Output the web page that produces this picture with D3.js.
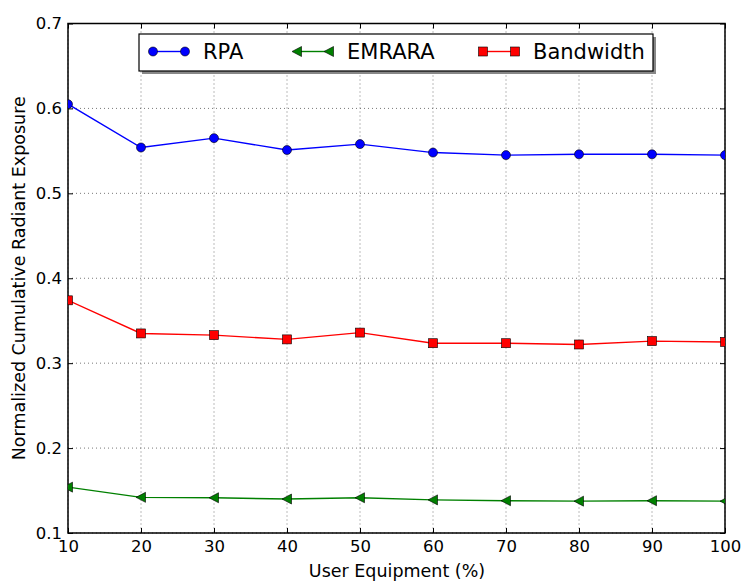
<!DOCTYPE html>
<html>
<head>
<meta charset="utf-8">
<script src="https://cdn.jsdelivr.net/npm/d3@7"></script>
<style>
  html, body { margin: 0; padding: 0; background: #fff; }
  svg { display: block; font-family: "DejaVu Sans", sans-serif; }
</style>
</head>
<body>
<svg id="chart" width="745" height="581"></svg>
<script>
// User equipment share (%)
const userEquipment = [10, 20, 30, 40, 50, 60, 70, 80, 90, 100];
// Normalized cumulative radiant exposure per scheme
const rpa       = [0.605, 0.554, 0.565, 0.551, 0.558, 0.548, 0.545, 0.546, 0.546, 0.545];
const emrara    = [0.154, 0.142, 0.1415, 0.140, 0.1415, 0.139, 0.138, 0.1375, 0.138, 0.1375];
const bandwidth = [0.374, 0.335, 0.333, 0.328, 0.336, 0.3235, 0.3235, 0.322, 0.326, 0.325];
const xTicks = [10, 20, 30, 40, 50, 60, 70, 80, 90, 100];
const yTicks = [0.1, 0.2, 0.3, 0.4, 0.5, 0.6, 0.7];

const series = [
  { name: "RPA",       values: rpa,       color: "#0000ff", marker: "circle" },
  { name: "EMRARA",    values: emrara,    color: "#008000", marker: "triangle-left" },
  { name: "Bandwidth", values: bandwidth, color: "#ff0000", marker: "square" }
];

const svg = d3.select("#chart");
const pLeft = 68, pRight = 725, pTop = 23.5, pBottom = 533;

const x = d3.scaleLinear().domain([10, 100]).range([pLeft, pRight]);
const y = d3.scaleLinear().domain([0.1, 0.7]).range([pBottom, pTop]);

// Dotted grid
const grid = svg.append("g");
grid.selectAll(".gx").data(xTicks).join("line")
  .attr("x1", d => x(d)).attr("x2", d => x(d))
  .attr("y1", pTop).attr("y2", pBottom)
  .attr("stroke", "#555").attr("stroke-width", 0.8).attr("stroke-dasharray", "1,3");
grid.selectAll(".gy").data(yTicks).join("line")
  .attr("x1", pLeft).attr("x2", pRight)
  .attr("y1", d => y(d)).attr("y2", d => y(d))
  .attr("stroke", "#555").attr("stroke-width", 0.8).attr("stroke-dasharray", "1,3");

// Axes with inward ticks on all four sides
const fmtY = d3.format(".1f");
function styleAxis(g) {
  g.select(".domain").remove();
  g.selectAll("text").attr("font-family", "DejaVu Sans, sans-serif").attr("font-size", 16.5).attr("fill", "#000");
  g.selectAll("line").attr("stroke", "#000").attr("stroke-width", 1);
}
svg.append("g").attr("transform", `translate(0,${pBottom})`)
  .call(d3.axisBottom(x).tickValues(xTicks).tickSize(-5).tickPadding(7).tickFormat(d3.format("d")))
  .call(styleAxis);
svg.append("g").attr("transform", `translate(0,${pTop})`)
  .call(d3.axisTop(x).tickValues(xTicks).tickSize(-5).tickFormat(""))
  .call(styleAxis);
svg.append("g").attr("transform", `translate(${pLeft},0)`)
  .call(d3.axisLeft(y).tickValues(yTicks).tickSize(-5).tickPadding(6).tickFormat(fmtY))
  .call(styleAxis);
svg.append("g").attr("transform", `translate(${pRight},0)`)
  .call(d3.axisRight(y).tickValues(yTicks).tickSize(-5).tickFormat(""))
  .call(styleAxis);

svg.append("rect")
  .attr("x", pLeft).attr("y", pTop).attr("width", pRight - pLeft).attr("height", pBottom - pTop)
  .attr("fill", "none").attr("stroke", "#000").attr("stroke-width", 1.5);

// Marker drawing
function drawMarker(g, type, color) {
  if (type === "circle") {
    g.append("circle").attr("r", 4.5).attr("fill", color).attr("stroke", "#000").attr("stroke-width", 0.6);
  } else if (type === "square") {
    g.append("rect").attr("x", -4.5).attr("y", -4.5).attr("width", 9).attr("height", 9)
      .attr("fill", color).attr("stroke", "#000").attr("stroke-width", 0.6);
  } else {
    g.append("path").attr("d", "M-5,0L4.5,-5L4.5,5Z")
      .attr("fill", color).attr("stroke", "#000").attr("stroke-width", 0.6);
  }
}

const defs = svg.append("defs");
defs.append("clipPath").attr("id", "clip").append("rect")
  .attr("x", pLeft).attr("y", pTop).attr("width", pRight - pLeft).attr("height", pBottom - pTop);
const plot = svg.append("g").attr("clip-path", "url(#clip)");

const line = d3.line().x((d, i) => x(userEquipment[i])).y(d => y(d));
series.forEach(s => {
  plot.append("path").datum(s.values)
    .attr("d", line).attr("fill", "none").attr("stroke", s.color).attr("stroke-width", 1.4);
  s.values.forEach((v, i) => {
    const g = plot.append("g").attr("transform", `translate(${x(userEquipment[i])},${y(v)})`);
    drawMarker(g, s.marker, s.color);
  });
});

// Axis titles
svg.append("text").attr("x", (pLeft + pRight) / 2 + 0.5).attr("y", 577)
  .attr("text-anchor", "middle").attr("font-size", 17.5).text("User Equipment (%)");
svg.append("text").attr("transform", `translate(25,${(pTop + pBottom) / 2}) rotate(-90)`)
  .attr("text-anchor", "middle").attr("font-size", 17.5).text("Normalized Cumulative Radiant Exposure");

// Legend with drop shadow
const lg = svg.append("g");
lg.append("rect").attr("x", 142).attr("y", 37).attr("width", 514).attr("height", 37).attr("fill", "#888");
lg.append("rect").attr("x", 139).attr("y", 34).attr("width", 514).attr("height", 37)
  .attr("fill", "#fff").attr("stroke", "#000").attr("stroke-width", 1.2);
const legendX = [153, 297, 483];
series.forEach((s, i) => {
  const x0 = legendX[i], yy = 51.5;
  lg.append("line").attr("x1", x0).attr("x2", x0 + 32).attr("y1", yy).attr("y2", yy)
    .attr("stroke", s.color).attr("stroke-width", 1.4);
  [x0, x0 + 32].forEach(mx => drawMarker(lg.append("g").attr("transform", `translate(${mx},${yy})`), s.marker, s.color));
  lg.append("text").attr("x", x0 + 50).attr("y", yy + 7.5).attr("font-size", 21).text(s.name);
});
</script>
</body>
</html>
